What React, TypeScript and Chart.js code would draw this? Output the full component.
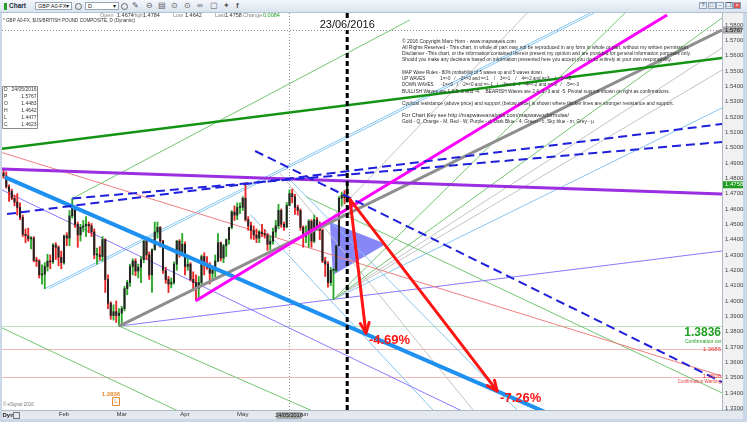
import React, { useEffect, useRef } from 'react';
import { Chart, registerables } from 'chart.js';
Chart.register(...registerables);

// ---------------- data ----------------
const dates = [
  '2015-12-30', '2015-12-31',
  '2016-01-04', '2016-01-05', '2016-01-06', '2016-01-07', '2016-01-08', '2016-01-11', '2016-01-12', '2016-01-13', '2016-01-14', '2016-01-15',
  '2016-01-18', '2016-01-19', '2016-01-20', '2016-01-21', '2016-01-22', '2016-01-25', '2016-01-26', '2016-01-27', '2016-01-28', '2016-01-29',
  '2016-02-01', '2016-02-02', '2016-02-03', '2016-02-04', '2016-02-05', '2016-02-08', '2016-02-09', '2016-02-10', '2016-02-11', '2016-02-12',
  '2016-02-15', '2016-02-16', '2016-02-17', '2016-02-18', '2016-02-19', '2016-02-22', '2016-02-23', '2016-02-24', '2016-02-25', '2016-02-26', '2016-02-29',
  '2016-03-01', '2016-03-02', '2016-03-03', '2016-03-04', '2016-03-07', '2016-03-08', '2016-03-09', '2016-03-10', '2016-03-11', '2016-03-14',
  '2016-03-15', '2016-03-16', '2016-03-17', '2016-03-18', '2016-03-21', '2016-03-22', '2016-03-23', '2016-03-24', '2016-03-25', '2016-03-28',
  '2016-03-29', '2016-03-30', '2016-03-31',
  '2016-04-01', '2016-04-04', '2016-04-05', '2016-04-06', '2016-04-07', '2016-04-08', '2016-04-11', '2016-04-12', '2016-04-13', '2016-04-14',
  '2016-04-15', '2016-04-18', '2016-04-19', '2016-04-20', '2016-04-21', '2016-04-22', '2016-04-25', '2016-04-26', '2016-04-27', '2016-04-28', '2016-04-29',
  '2016-05-02', '2016-05-03', '2016-05-04', '2016-05-05', '2016-05-06', '2016-05-09', '2016-05-10', '2016-05-11', '2016-05-12', '2016-05-13',
  '2016-05-16', '2016-05-17', '2016-05-18', '2016-05-19', '2016-05-20', '2016-05-23', '2016-05-24', '2016-05-25', '2016-05-26', '2016-05-27',
  '2016-05-30', '2016-05-31',
  '2016-06-01', '2016-06-02', '2016-06-03', '2016-06-06', '2016-06-07', '2016-06-08', '2016-06-09', '2016-06-10', '2016-06-13', '2016-06-14',
  '2016-06-15', '2016-06-16', '2016-06-17', '2016-06-20', '2016-06-21', '2016-06-22', '2016-06-23',
];

const open = [
  1.4835, 1.4815, 1.4745, 1.4715, 1.4670, 1.4645, 1.4610, 1.4545, 1.4435, 1.4425,
  1.4405, 1.4410, 1.4265, 1.4260, 1.4170, 1.4175, 1.4225, 1.4260, 1.4255, 1.4365,
  1.4350, 1.4285, 1.4250, 1.4425, 1.4410, 1.4555, 1.4605, 1.4500, 1.4430, 1.4480,
  1.4490, 1.4500, 1.4490, 1.4450, 1.4300, 1.4300, 1.4290, 1.4400, 1.4140, 1.3985,
  1.3905, 1.3930, 1.3905, 1.3920, 1.3950, 1.4080, 1.4120, 1.4225, 1.4260, 1.4195,
  1.4220, 1.4270, 1.4390, 1.4300, 1.4170, 1.4335, 1.4450, 1.4480, 1.4390, 1.4200,
  1.4140, 1.4110, 1.4120, 1.4240, 1.4390, 1.4320, 1.4370, 1.4225, 1.4240, 1.4140,
  1.4120, 1.4080, 1.4120, 1.4290, 1.4240, 1.4220, 1.4180, 1.4200, 1.4260, 1.4380,
  1.4280, 1.4360, 1.4400, 1.4480, 1.4580, 1.4560, 1.4610, 1.4610, 1.4670, 1.4530,
  1.4490, 1.4460, 1.4430, 1.4410, 1.4450, 1.4440, 1.4430, 1.4370, 1.4390, 1.4450,
  1.4490, 1.4590, 1.4500, 1.4483, 1.4623, 1.4700, 1.4680, 1.4610, 1.4590, 1.4480,
  1.4420, 1.4440, 1.4520, 1.4390, 1.4530, 1.4490, 1.4460, 1.4260, 1.4240, 1.4120,
  1.4200, 1.4200, 1.4360, 1.4670, 1.4690, 1.4674,
];
const high = [
  1.4860, 1.4842, 1.4758, 1.4730, 1.4690, 1.4700, 1.4640, 1.4560, 1.4470, 1.4475,
  1.4420, 1.4420, 1.4285, 1.4270, 1.4235, 1.4250, 1.4305, 1.4300, 1.4375, 1.4380,
  1.4360, 1.4325, 1.4430, 1.4445, 1.4590, 1.4668, 1.4620, 1.4515, 1.4500, 1.4525,
  1.4550, 1.4515, 1.4505, 1.4470, 1.4345, 1.4355, 1.4420, 1.4405, 1.4170, 1.3995,
  1.3975, 1.4000, 1.3950, 1.3965, 1.4095, 1.4135, 1.4240, 1.4275, 1.4275, 1.4240,
  1.4290, 1.4395, 1.4410, 1.4320, 1.4340, 1.4515, 1.4515, 1.4485, 1.4395, 1.4220,
  1.4160, 1.4150, 1.4255, 1.4395, 1.4400, 1.4440, 1.4385, 1.4300, 1.4250, 1.4190,
  1.4170, 1.4160, 1.4300, 1.4315, 1.4290, 1.4250, 1.4225, 1.4300, 1.4440, 1.4385,
  1.4370, 1.4405, 1.4480, 1.4590, 1.4620, 1.4640, 1.4640, 1.4680, 1.4770, 1.4550,
  1.4515, 1.4490, 1.4470, 1.4460, 1.4500, 1.4465, 1.4440, 1.4425, 1.4475, 1.4525,
  1.4630, 1.4600, 1.4515, 1.4642, 1.4725, 1.4730, 1.4695, 1.4625, 1.4600, 1.4490,
  1.4490, 1.4530, 1.4530, 1.4560, 1.4545, 1.4515, 1.4470, 1.4285, 1.4255, 1.4220,
  1.4210, 1.4360, 1.4680, 1.4710, 1.4720, 1.4784,
];
const low = [
  1.4800, 1.4735, 1.4650, 1.4660, 1.4620, 1.4560, 1.4530, 1.4420, 1.4380, 1.4390,
  1.4340, 1.4255, 1.4225, 1.4150, 1.4110, 1.4080, 1.4195, 1.4210, 1.4245, 1.4270,
  1.4230, 1.4210, 1.4240, 1.4360, 1.4360, 1.4540, 1.4480, 1.4350, 1.4390, 1.4450,
  1.4420, 1.4445, 1.4420, 1.4275, 1.4240, 1.4265, 1.4260, 1.4055, 1.3950, 1.3880,
  1.3875, 1.3860, 1.3836, 1.3845, 1.3935, 1.4040, 1.4095, 1.4170, 1.4165, 1.4150,
  1.4120, 1.4250, 1.4270, 1.4140, 1.4055, 1.4330, 1.4410, 1.4350, 1.4180, 1.4115,
  1.4055, 1.4085, 1.4110, 1.4200, 1.4285, 1.4300, 1.4170, 1.4200, 1.4130, 1.4080,
  1.4010, 1.4005, 1.4110, 1.4170, 1.4205, 1.4110, 1.4135, 1.4155, 1.4255, 1.4260,
  1.4250, 1.4290, 1.4370, 1.4470, 1.4525, 1.4530, 1.4570, 1.4590, 1.4520, 1.4460,
  1.4405, 1.4400, 1.4380, 1.4380, 1.4420, 1.4410, 1.4330, 1.4335, 1.4370, 1.4420,
  1.4470, 1.4480, 1.4460, 1.4477, 1.4620, 1.4640, 1.4565, 1.4560, 1.4460, 1.4350,
  1.4380, 1.4350, 1.4350, 1.4380, 1.4460, 1.4400, 1.4250, 1.4160, 1.4090, 1.4100,
  1.4010, 1.4190, 1.4360, 1.4620, 1.4635, 1.4642,
];
const close = [
  1.4815, 1.4745, 1.4715, 1.4670, 1.4645, 1.4610, 1.4545, 1.4435, 1.4425, 1.4405,
  1.4410, 1.4265, 1.4260, 1.4170, 1.4175, 1.4225, 1.4260, 1.4255, 1.4365, 1.4350,
  1.4285, 1.4250, 1.4425, 1.4410, 1.4555, 1.4605, 1.4500, 1.4430, 1.4480, 1.4490,
  1.4500, 1.4490, 1.4450, 1.4300, 1.4300, 1.4290, 1.4400, 1.4140, 1.3985, 1.3905,
  1.3930, 1.3905, 1.3920, 1.3950, 1.4080, 1.4120, 1.4225, 1.4260, 1.4195, 1.4220,
  1.4270, 1.4390, 1.4300, 1.4170, 1.4335, 1.4450, 1.4480, 1.4390, 1.4200, 1.4140,
  1.4110, 1.4120, 1.4240, 1.4390, 1.4320, 1.4370, 1.4225, 1.4240, 1.4140, 1.4120,
  1.4080, 1.4120, 1.4290, 1.4240, 1.4220, 1.4180, 1.4200, 1.4260, 1.4380, 1.4280,
  1.4360, 1.4400, 1.4480, 1.4580, 1.4560, 1.4610, 1.4610, 1.4670, 1.4530, 1.4490,
  1.4460, 1.4430, 1.4410, 1.4450, 1.4440, 1.4430, 1.4370, 1.4390, 1.4450, 1.4490,
  1.4590, 1.4500, 1.4483, 1.4623, 1.4700, 1.4680, 1.4610, 1.4590, 1.4480, 1.4420,
  1.4440, 1.4520, 1.4390, 1.4530, 1.4490, 1.4460, 1.4260, 1.4240, 1.4120, 1.4200,
  1.4200, 1.4360, 1.4670, 1.4690, 1.4674, 1.4758,
];

const firstDate2016 = '2016-01-04';
const monthTickDates = ['2016-02-01', '2016-03-01', '2016-04-01', '2016-05-02', '2016-06-01'];
const monthTickLabels = ['Feb', 'Mar', 'Apr', 'May', 'Jun'];
const priceTicks = [
  1.33, 1.34, 1.35, 1.36, 1.37, 1.38, 1.39, 1.40, 1.41, 1.42, 1.43, 1.44, 1.45,
  1.46, 1.47, 1.48, 1.49, 1.50, 1.51, 1.52, 1.53, 1.54, 1.55, 1.56, 1.57, 1.58,
];
const xRange = [-2.55, 259.3];
const yRange = [1.32886, 1.58783];

// trend lines: [trading-day index, price] end points
const purpleResistance = [[-2.55, 1.4861], [259.3, 1.4698]];
const greenResistance = [[-3.3, 1.4991], [259.3, 1.5585]];
const skyBlueSupport = [[-1.5, 1.4808], [215, 1.3119]];
const magentaChannel = [[67.8, 1.4000], [239.3, 1.5865]];
const greyChannel = [[40, 1.3836], [259.3, 1.5767]];
const blueDashUpperA = [[-0.73, 1.4567], [259.3, 1.5154]];
const blueDashUpperB = [[23, 1.4668], [259.3, 1.5037]];
const blueDashDown = [[89.5, 1.4978], [259.3, 1.3471]];
const redThin = [[-3.3, 1.4972], [259.3, 1.3510]];
const purpleThinDown = [[-2.55, 1.4724], [174.3, 1.32]];
const purpleThinUp = [[40, 1.3836], [259.3, 1.4326]];
const greenThinFeb = [[23, 1.4668], [145.8, 1.5833]];
const lightBlueJanA = [[13, 1.4080], [211.3, 1.5878]];
const lightBlueJanB = [[14.5, 1.4080], [212.8, 1.5878]];
const greenThinDownA = [[-3.3, 1.3830], [71.2, 1.32]];
const greenThinDownB = [[40, 1.3836], [120.8, 1.32]];
const greenThinDownC = [[108, 1.4680], [259.3, 1.3400]];
const junFanGreenA = [[118, 1.4010], [224, 1.5878]];
const junFanGreenB = [[118, 1.4010], [259.3, 1.5846]];
const junFanGreyA = [[118, 1.4010], [259.3, 1.5650]];
const junFanGreyB = [[118, 1.4010], [259.3, 1.5506]];
const junFanBlue = [[118, 1.4010], [259.3, 1.5259]];
const mayFanBlueA = [[87.6, 1.4567], [158.8, 1.32]];
const mayFanGrey = [[98.5, 1.4835], [172.8, 1.32]];
const mayFanBlueB = [[102.2, 1.4789], [189.6, 1.32]];
const greyThinTop = [[113.1, 1.4463], [188.4, 1.5878]];

const levelPrices = [1.3836, 1.3685, 1.3506];
const levelLabels = ['1.3836', '1.3685', '1.3506'];
const levelNotes = ['Confirmation centre', '', 'Confirmation Warning'];
const lowMarkerDate = '2016-02-29';
const lowMarkerLabel = '1.3836';
const eventDate = '2016-06-23';
const eventLabel = '23/06/2016';
const crossIndex = 102;
const crossPrice = 1.5767;
const crossLabel = '24/05/2016';
const lastPrice = 1.4758;
const arrowOrigin = [124, 1.4663];
const arrowTargets = [[129.8, 1.3791], [177.5, 1.3413]];
const arrowLabels = ['-4.69%', '-7.26%'];
const wedge = [[116.7, 1.4515], [137.1, 1.4371], [117.8, 1.4169]];
const infoLabels = ['D', 'P', 'O', 'H', 'L', 'C'];
const infoValues = ['24/05/2016', '1.5767', '1.4483', '1.4642', '1.4477', '1.4623'];
const quoteLabels = ['Open', 'High', 'Low', 'Last', 'Change'];
const quoteValues = ['1.4674', '1.4784', '1.4642', '1.4758', '0.0084'];
const symbolTitle = '* GBP A0-FX, $US/BRITISH POUND COMPOSITE, D (Dynamic)';
const noteLines = [
  '\u00A9 2016 Copyright Marc Horn - www.mapwaves.com',
  'All Rights Reserved - This chart, in whole or part may not be reproduced in any form in whole or part, without my written permission.',
  'Disclaimer -This chart, or the information contained therein present my opinion and are provided for general information purposes only.',
  'Should you make any decisions based on information presented here you accept you do so entirely at your own responsibility.',
  'MAP Wave Rules - 80% probability of 5 waves up and 5 waves down.',
  'UP WAVES            1=>0   /   -2=>0 and =<1    /    3=>1    /    4=>2 and =<3    /    5=>3',
  'DOWN WAVES      -1=<0   /   -2=<0 and =>-1   /   -3=<-1   /   -4=<-2 and =>-3   /   -5=<-3',
  'BULLISH Waves are 1,3,5,-2 and -4.    BEARISH Waves are 2,4,-1,-3 and -5. Pivotal support shown on right as confirmations.',
  'Cyclical resistance (above price) and support (below price) is shown where thicker lines are stronger resistance and support.',
  'For Chart Key see http://mapwaveanalysis.com/mapwaves/formulas/',
  'Gold - Q, Orange - M, Red - W, Purple - d, Dark Blue - 4, Green - c, Sky blue - m, Grey - \u03BC',
];

// ---------------- drawing ----------------
const FONT = '"Liberation Sans", Arial, sans-serif';

function seg(pts: number[][], color: string, width: number, order: number, dash: number[] = []) {
  return {
    type: 'line',
    data: pts.map(([x, y]) => ({ x, y })),
    borderColor: color,
    borderWidth: width,
    borderDash: dash,
    pointRadius: 0,
    fill: false,
    tension: 0,
    order,
    borderCapStyle: 'butt',
  };
}

function makeOverlay(xOffset: number) {
  const idxOf = (d: string) => dates.indexOf(d) - xOffset;
  return {
    id: 'overlay',
    beforeDraw(chart: any) {
      const { ctx, chartArea: a, width: W, height: H } = chart;
      ctx.save();
      ctx.fillStyle = '#ffffff';
      ctx.fillRect(0, 0, W, H);
      ctx.fillStyle = '#f1f1f1';
      ctx.fillRect(a.right, a.top, W - a.right, a.bottom - a.top);
      ctx.fillStyle = '#e4e9ef';
      ctx.fillRect(0, a.bottom, W, H - a.bottom);
      ctx.strokeStyle = '#aeb9c6';
      ctx.lineWidth = 1;
      ctx.beginPath();
      ctx.moveTo(a.right + 0.5, a.top);
      ctx.lineTo(a.right + 0.5, a.bottom);
      ctx.moveTo(0, a.bottom + 0.5);
      ctx.lineTo(W, a.bottom + 0.5);
      ctx.stroke();
      ctx.fillStyle = '#c9d7e6';
      ctx.fillRect(0, 0, 2, H);
      ctx.fillRect(W - 4, 0, 4, H);
      ctx.fillRect(0, H - 3, W, 3);
      ctx.restore();
    },
    beforeDatasetsDraw(chart: any) {
      const { ctx, chartArea: a, scales } = chart;
      const xs = scales.x, ys = scales.y;
      ctx.save();
      ctx.beginPath();
      ctx.rect(a.left, a.top, a.right - a.left, a.bottom - a.top);
      ctx.clip();
      const levelColors = ['#b7e2b7', '#f2b7b7', '#f2b7b7'];
      levelPrices.forEach((p, i) => {
        const py = Math.round(ys.getPixelForValue(p)) + 0.5;
        ctx.strokeStyle = levelColors[i];
        ctx.lineWidth = 1;
        ctx.beginPath();
        ctx.moveTo(a.left, py);
        ctx.lineTo(a.right, py);
        ctx.stroke();
      });
      // crosshair
      ctx.setLineDash([1, 2]);
      ctx.strokeStyle = '#8a8a8a';
      const cx = Math.round(xs.getPixelForValue(crossIndex)) + 0.5;
      const cy = Math.round(ys.getPixelForValue(crossPrice)) + 0.5;
      ctx.beginPath();
      ctx.moveTo(cx, a.top);
      ctx.lineTo(cx, a.bottom);
      ctx.moveTo(a.left, cy);
      ctx.lineTo(a.right, cy);
      ctx.stroke();
      ctx.setLineDash([]);
      // wedge
      ctx.fillStyle = 'rgba(95,95,245,0.75)';
      ctx.beginPath();
      wedge.forEach(([wx, wy], i) => {
        const px = xs.getPixelForValue(wx), py = ys.getPixelForValue(wy);
        if (i === 0) ctx.moveTo(px, py); else ctx.lineTo(px, py);
      });
      ctx.closePath();
      ctx.fill();
      ctx.restore();
    },
    afterDatasetsDraw(chart: any) {
      const { ctx, chartArea: a, scales } = chart;
      const xs = scales.x, ys = scales.y;
      ctx.save();
      ctx.beginPath();
      ctx.rect(a.left, a.top, a.right - a.left, a.bottom - a.top);
      ctx.clip();

      // arrows
      const ox = xs.getPixelForValue(arrowOrigin[0]);
      const oy = ys.getPixelForValue(arrowOrigin[1]);
      ctx.strokeStyle = '#ff1414';
      ctx.lineWidth = 3;
      ctx.lineCap = 'round';
      ctx.lineJoin = 'round';
      arrowTargets.forEach(([tx, ty], i) => {
        const px = xs.getPixelForValue(tx), py = ys.getPixelForValue(ty);
        ctx.beginPath();
        ctx.moveTo(ox, oy);
        ctx.lineTo(px, py);
        ctx.stroke();
        const ang = Math.atan2(py - oy, px - ox);
        const L = 11;
        ctx.beginPath();
        ctx.moveTo(px - L * Math.cos(ang - 0.42), py - L * Math.sin(ang - 0.42));
        ctx.lineTo(px, py);
        ctx.lineTo(px - L * Math.cos(ang + 0.42), py - L * Math.sin(ang + 0.42));
        ctx.stroke();
        ctx.fillStyle = '#ff1414';
        ctx.font = 'bold 13px ' + FONT;
        ctx.textAlign = 'left';
        ctx.textBaseline = 'middle';
        ctx.fillText(arrowLabels[i], px + 3, py + 7);
      });
      ctx.lineCap = 'butt';

      // event line
      const ex = xs.getPixelForValue(idxOf(eventDate));
      ctx.strokeStyle = '#000';
      ctx.lineWidth = 3;
      ctx.setLineDash([5, 3]);
      ctx.beginPath();
      ctx.moveTo(ex, a.top);
      ctx.lineTo(ex, a.bottom);
      ctx.stroke();
      ctx.setLineDash([]);

      // header texts
      ctx.textBaseline = 'alphabetic';
      ctx.textAlign = 'left';
      ctx.font = '5.5px ' + FONT;
      const qlx = [100, 132, 173, 215, 243];
      const qvx = [117, 143, 185, 225, 263];
      quoteLabels.forEach((l, i) => {
        ctx.fillStyle = '#8a8a8a';
        ctx.fillText(l, qlx[i], 17);
        ctx.fillStyle = i === 4 ? '#22a022' : '#333';
        ctx.fillText(quoteValues[i], qvx[i], 17);
      });
      ctx.fillStyle = '#333';
      ctx.font = '5.5px ' + FONT;
      ctx.fillText(symbolTitle, 3, 21.5, 132);

      // notes
      const noteY = [41, 47, 53, 59.5, 72.5, 78.5, 84.5, 91, 103.5, 115.7, 121.7];
      const noteW = [114, 287, 289, 270, 141, 169, 177, 268, 272, 167, 192];
      ctx.font = '5.5px ' + FONT;
      ctx.fillStyle = '#2a2a2a';
      ctx.textBaseline = 'middle';
      noteLines.forEach((t, i) => ctx.fillText(t, 402, noteY[i], noteW[i]));

      // info box
      ctx.fillStyle = '#fff';
      ctx.fillRect(2.5, 86.5, 35, 42);
      ctx.strokeStyle = '#8a8a8a';
      ctx.lineWidth = 1;
      ctx.strokeRect(2.5, 86.5, 35, 42);
      ctx.font = '5px ' + FONT;
      ctx.fillStyle = '#333';
      infoLabels.forEach((l, i) => {
        const ry = 90 + i * 7;
        ctx.textAlign = 'left';
        ctx.fillText(l, 4, ry);
        ctx.textAlign = 'right';
        ctx.fillText(infoValues[i], 36.5, ry);
      });

      // level labels on right
      const l0 = ys.getPixelForValue(levelPrices[0]);
      ctx.textAlign = 'right';
      ctx.fillStyle = '#22a022';
      ctx.font = 'bold 12px ' + FONT;
      ctx.fillText(levelLabels[0], a.right - 1, l0 + 7);
      ctx.font = '5px ' + FONT;
      ctx.textAlign = 'left';
      ctx.fillText(levelNotes[0], a.right - 37, l0 + 16);
      ctx.fillStyle = '#e23a3a';
      ctx.textAlign = 'right';
      ctx.font = '6px ' + FONT;
      ctx.fillText(levelLabels[1], a.right - 1, ys.getPixelForValue(levelPrices[1]));
      const l2 = ys.getPixelForValue(levelPrices[2]);
      ctx.fillText(levelLabels[2], a.right - 1, l2);
      ctx.font = '4.5px ' + FONT;
      ctx.fillText(levelNotes[2], a.right - 1, l2 + 5);

      // low marker
      const lx = xs.getPixelForValue(idxOf(lowMarkerDate));
      ctx.fillStyle = '#e8892c';
      ctx.font = 'bold 6px ' + FONT;
      ctx.textAlign = 'center';
      ctx.fillText(lowMarkerLabel, lx - 8, a.bottom - 16);
      ctx.strokeStyle = '#e8892c';
      ctx.lineWidth = 1;
      ctx.strokeRect(lx - 6.5, a.bottom - 12.5, 7, 8);
      ctx.font = '6px ' + FONT;
      ctx.fillText('L', lx - 3, a.bottom - 8.5);

      // esignal
      ctx.fillStyle = '#777';
      ctx.font = '4.5px ' + FONT;
      ctx.textAlign = 'left';
      ctx.fillText('\u00A9 eSignal 2016', 3, a.bottom - 5);
      ctx.restore();
    },
    afterDraw(chart: any) {
      const { ctx, chartArea: a, scales } = chart;
      const xs = scales.x, ys = scales.y;
      ctx.save();
      // event label
      const ex = xs.getPixelForValue(idxOf(eventDate));
      ctx.font = '11px "Liberation Sans Narrow", ' + FONT;
      const tw = ctx.measureText(eventLabel).width;
      ctx.fillStyle = '#fff';
      ctx.fillRect(ex - tw / 2 - 2, 18, tw + 4, 12);
      ctx.fillStyle = '#111';
      ctx.textAlign = 'center';
      ctx.textBaseline = 'middle';
      ctx.fillText(eventLabel, ex, 24.5);

      // axis highlights
      ctx.font = '6px ' + FONT;
      ctx.textAlign = 'left';
      const cy = ys.getPixelForValue(crossPrice);
      ctx.fillStyle = '#a9a9a9';
      ctx.fillRect(a.right + 1, cy - 3.5, 19, 7);
      ctx.fillStyle = '#111';
      ctx.fillText(crossPrice.toFixed(4), a.right + 3, cy);
      const ly = ys.getPixelForValue(lastPrice);
      ctx.fillStyle = '#1e9a1e';
      ctx.fillRect(a.right + 1, ly - 3.5, 20, 7);
      ctx.fillStyle = '#fff';
      ctx.fillText(lastPrice.toFixed(4), a.right + 3, ly);
      const cx = xs.getPixelForValue(crossIndex);
      ctx.fillStyle = '#a9a9a9';
      ctx.fillRect(cx - 13, a.bottom + 2, 25, 7);
      ctx.fillStyle = '#111';
      ctx.font = '5.5px ' + FONT;
      ctx.textAlign = 'center';
      ctx.fillText(crossLabel, cx - 0.5, a.bottom + 5.5);
      // Dyn
      ctx.textAlign = 'left';
      ctx.font = 'bold 6px ' + FONT;
      ctx.fillStyle = '#222';
      ctx.fillText('Dyn', 2.5, a.bottom + 5.5);
      ctx.strokeStyle = '#777';
      ctx.strokeRect(13.5, a.bottom + 2.5, 6, 6);
      ctx.restore();
    },
  };
}

const btn = (left: number, w: number, extra: any = {}) => ({
  position: 'absolute' as const, left, top: 2, width: w, height: 8, background: '#fff',
  border: '1px solid #97a7ba', boxSizing: 'border-box' as const, fontSize: 5.5, lineHeight: '6px',
  paddingLeft: 2, color: '#222', ...extra,
});
const icon = (left: number) => ({
  position: 'absolute' as const, left, top: 0, fontSize: 8, lineHeight: '12px', color: '#555',
});

export default function App() {
  const ref = useRef<HTMLCanvasElement>(null);
  useEffect(() => {
    const canvas = ref.current;
    if (!canvas) return;
    const xOffset = dates.indexOf(firstDate2016);
    const candleX = dates.map((_, i) => i - xOffset);
    const up = close.map((c, i) => c >= open[i]);
    const wickData = candleX.map((x, i) => ({ x, y: [low[i], high[i]] }));
    const bodyData = candleX.map((x, i) => ({ x, y: [Math.min(open[i], close[i]), Math.max(open[i], close[i])] }));
    const monthX = monthTickDates.map((d) => dates.indexOf(d) - xOffset);

    const datasets: any[] = [
      { type: 'bar', data: wickData, backgroundColor: up.map((u) => (u ? '#2aa82a' : '#e82626')), barThickness: 1.2, grouped: false, order: 40, borderWidth: 0 },
      { type: 'bar', data: bodyData, backgroundColor: '#222222', barThickness: 1.4, grouped: false, order: 35, borderWidth: 0, minBarLength: 1 },
      // thin lines
      seg(redThin, '#ee8080', 1, 60),
      seg(purpleThinDown, '#8c78ff', 1, 60),
      seg(purpleThinUp, '#8c78ff', 1, 60),
      seg(greenThinFeb, '#72c672', 1, 60),
      seg(lightBlueJanA, '#86c6f2', 1, 60),
      seg(lightBlueJanB, '#86c6f2', 1, 60),
      seg(greenThinDownA, '#72c672', 1, 60),
      seg(greenThinDownB, '#72c672', 1, 60),
      seg(greenThinDownC, '#72c672', 1, 60),
      seg(junFanGreenA, '#72c672', 1, 60),
      seg(junFanGreenB, '#72c672', 1, 60),
      seg(junFanGreyA, '#c4c4c4', 1, 60),
      seg(junFanGreyB, '#c4c4c4', 1, 60),
      seg(junFanBlue, '#86c6f2', 1, 60),
      seg(mayFanBlueA, '#86c6f2', 1, 60),
      seg(mayFanGrey, '#c4c4c4', 1, 60),
      seg(mayFanBlueB, '#86c6f2', 1, 60),
      seg(greyThinTop, '#c4c4c4', 1, 60),
      // thick lines
      seg(greenResistance, '#139313', 2.5, 10),
      seg(purpleResistance, '#9a2ee0', 3, 10),
      seg(skyBlueSupport, '#1e90f0', 4, 10),
      seg(greyChannel, '#8e8e8e', 3, 10),
      seg(magentaChannel, '#ff00ff', 3, 9),
      seg(blueDashUpperA, '#1f1fdc', 2, 5, [9, 5]),
      seg(blueDashUpperB, '#1f1fdc', 2, 5, [9, 5]),
      seg(blueDashDown, '#1f1fdc', 2, 5, [9, 5]),
    ];

    const chart = new Chart(canvas, {
      type: 'bar',
      data: { datasets },
      options: {
        animation: false,
        responsive: false,
        maintainAspectRatio: false,
        events: [],
        layout: { padding: { top: 13, left: 2, right: 0, bottom: 0 } },
        plugins: { legend: { display: false }, tooltip: { enabled: false } },
        scales: {
          x: {
            type: 'linear',
            min: xRange[0],
            max: xRange[1],
            offset: false,
            grid: { display: false, drawTicks: false },
            border: { display: false },
            afterBuildTicks: (s: any) => { s.ticks = monthX.map((v) => ({ value: v })); },
            afterFit: (s: any) => { s.height = 12; },
            ticks: {
              autoSkip: false,
              maxRotation: 0,
              padding: 1,
              color: '#333',
              font: { size: 6, family: FONT },
              callback: (v: any) => {
                const k = monthX.indexOf(Number(v));
                return k >= 0 ? monthTickLabels[k] : '';
              },
            },
          },
          y: {
            type: 'linear',
            position: 'right',
            min: yRange[0],
            max: yRange[1],
            grid: { display: false, drawTicks: false },
            border: { display: false },
            afterBuildTicks: (s: any) => { s.ticks = priceTicks.map((v) => ({ value: v })); },
            afterFit: (s: any) => { s.width = 25; },
            ticks: {
              autoSkip: false,
              padding: 3,
              color: '#444',
              font: { size: 6, family: FONT },
              callback: (v: any) => Number(v).toFixed(4),
            },
          },
        },
      } as any,
      plugins: [makeOverlay(xOffset)],
    } as any);
    return () => chart.destroy();
  }, []);

  return (
    <div style={{ position: 'fixed', left: 0, top: 0, width: 747, height: 422, overflow: 'hidden', background: '#fff', fontFamily: FONT }}>
      <canvas ref={ref} width={747} height={422} style={{ position: 'absolute', left: 0, top: 0, width: 747, height: 422 }} />
      <div style={{ position: 'absolute', left: 0, top: 0, width: 747, height: 13, background: 'linear-gradient(#f4f7fb, #d9e3ee)', borderBottom: '1px solid #b3c2d3', boxSizing: 'border-box' }}>
        <div style={{ position: 'absolute', left: 4, top: 3, width: 3, height: 7, background: '#2a9d2a' }} />
        <div style={{ position: 'absolute', left: 9, top: 0, fontSize: 6.5, lineHeight: '12px', fontWeight: 'bold', color: '#1d2a3a' }}>Chart</div>
        <div style={btn(35, 37)}>GBP A0-FX <span style={{ position: 'absolute', right: 2 }}>▾</span></div>
        <div style={{ position: 'absolute', left: 75, top: 2.5, width: 7, height: 7, borderRadius: '50%', border: '1px solid #666', boxSizing: 'border-box' }} />
        <div style={btn(85, 34)}>D <span style={{ position: 'absolute', right: 2 }}>▾</span></div>
        <div style={{ position: 'absolute', left: 121, top: 2.5, width: 7, height: 7, borderRadius: '50%', border: '1px solid #666', boxSizing: 'border-box' }} />
        <div style={icon(132)}>✎</div>
        <div style={icon(146)}>⊖</div>
        <div style={icon(158)}>▤</div>
        <div style={icon(171)}>⊙</div>
        <div style={icon(184)}>⊙</div>
        <div style={icon(197)}>∞</div>
        <div style={icon(210)}>▢</div>
        <div style={icon(223)}>✦</div>
        <div style={{ ...icon(236), fontWeight: 'bold' }}>f</div>
        {['?', '□', '–', '❐', '×'].map((t, i) => (
          <div key={i} style={{ position: 'absolute', left: 699 + i * 8.5, top: 2, width: 8, height: 7, boxSizing: 'border-box', border: '1px solid #8ea3ba', background: i === 4 ? '#d9534f' : '#e9eff6', color: i === 4 ? '#fff' : '#345', fontSize: 5.5, lineHeight: '5px', textAlign: 'center' }}>{t}</div>
        ))}
      </div>
    </div>
  );
}
